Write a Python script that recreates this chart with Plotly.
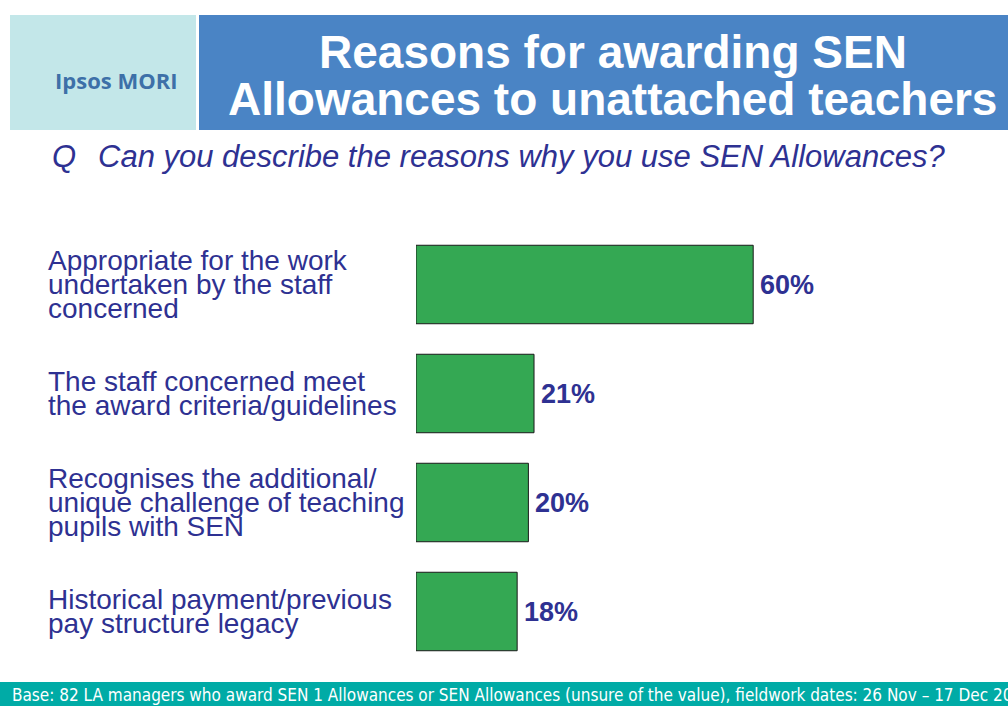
import plotly.graph_objects as go

# Data
categories = [
    "Appropriate for the work<br>undertaken by the staff<br>concerned",
    "The staff concerned meet<br>the award criteria/guidelines",
    "Recognises the additional/<br>unique challenge of teaching<br>pupils with SEN",
    "Historical payment/previous<br>pay structure legacy",
]
values = [60, 21, 20, 18]

title_lines = ["Reasons for awarding SEN", "Allowances to unattached teachers"]
question = "Can you describe the reasons why you use SEN Allowances?"
base_note = ("Base: 82 LA managers who award SEN 1 Allowances or SEN Allowances "
             "(unsure of the value), fieldwork dates: 26 Nov \u2013 17 Dec 2008")

W, H = 1008, 706
L, R, T, B = 416, 30, 230, 40
PW, PH = W - L - R, H - T - B

NAVY = "#2E3192"
FONT = "Liberation Sans, Arial, sans-serif"


def px(x):
    return (x - L) / PW


def py(y):
    return 1 - (y - T) / PH


fig = go.Figure()

fig.add_trace(go.Bar(
    x=values,
    y=list(range(len(categories))),
    orientation="h",
    marker=dict(color="#34A853", line=dict(color="#1a1a1a", width=1)),
    hoverinfo="skip",
))

shapes = [
    dict(type="rect", xref="paper", yref="paper", x0=px(10), x1=px(196),
         y0=py(15), y1=py(130), fillcolor="#C3E7E9", line=dict(width=0), layer="below"),
    dict(type="rect", xref="paper", yref="paper", x0=px(199), x1=px(1010),
         y0=py(15), y1=py(130), fillcolor="#4A84C5", line=dict(width=0), layer="below"),
    dict(type="rect", xref="paper", yref="paper", x0=px(0), x1=px(1010),
         y0=py(682), y1=py(708), fillcolor="#00ABA6", line=dict(width=0), layer="below"),
]


def note(text, x, y, size, color, family=FONT, xanchor="center"):
    return dict(text=text, xref="paper", yref="paper", x=px(x), y=py(y),
                xanchor=xanchor, yanchor="middle", showarrow=False,
                font=dict(family=family, size=size, color=color))


annotations = [
    note("<b>Ipsos MORI</b>", 116, 80, 22, "#3D70A8", family="Open Sans, sans-serif"),
    note("<b>" + title_lines[0] + "</b>", 613, 52, 46, "white"),
    note("<b>" + title_lines[1] + "</b>", 612, 99, 46, "white"),
    note("<i>Q</i>", 50, 157, 31, NAVY, xanchor="left"),
    note("<i>" + question + "</i>", 96, 157, 31, NAVY, xanchor="left"),
    note(base_note, 10, 695, 17, "white",
         family="Liberation Sans Narrow, Arial Narrow, DejaVu Sans Condensed, sans-serif",
         xanchor="left"),
]

# category labels, one annotation per line for tight line spacing
for i, cat in enumerate(categories):
    lines = cat.split("<br>")
    n = len(lines)
    for j, line in enumerate(lines):
        annotations.append(dict(
            text=line, xref="paper", yref="y", x=px(46), y=i, xanchor="left",
            yanchor="middle", yshift=-(j - (n - 1) / 2) * 24, showarrow=False,
            font=dict(family=FONT, size=28, color=NAVY),
        ))

# value labels
for i, v in enumerate(values):
    annotations.append(dict(
        text=f"<b>{v}%</b>", xref="x", yref="y", x=v, y=i, xanchor="left",
        yanchor="middle", xshift=5, showarrow=False,
        font=dict(family=FONT, size=27, color=NAVY),
    ))

fig.update_layout(
    width=W, height=H,
    margin=dict(l=L, r=R, t=T, b=B),
    paper_bgcolor="white", plot_bgcolor="white",
    bargap=0.28,
    showlegend=False,
    shapes=shapes,
    annotations=annotations,
    xaxis=dict(range=[0, 100], visible=False, fixedrange=True),
    yaxis=dict(range=[len(categories) - 0.5, -0.5], visible=False, fixedrange=True),
)

fig.write_html("out.html", config={"displayModeBar": False},
               post_script="document.body.style.margin='0';document.body.style.overflow='hidden';")
